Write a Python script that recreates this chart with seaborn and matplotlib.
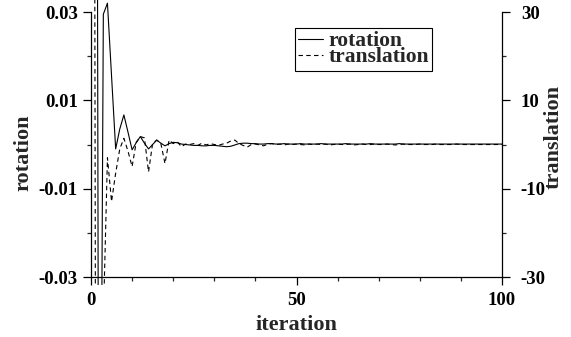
import numpy as np
import pandas as pd
import matplotlib
matplotlib.use("Agg")
import matplotlib.pyplot as plt
from matplotlib.ticker import FixedLocator, MultipleLocator
import seaborn as sns

# ---------------- data ----------------
iteration = list(range(0, 101))

rotation = [
    0.5, 0.3, -0.15, 0.0295, 0.032, 0.0155, -0.0010, 0.0035, 0.0067, 0.0028,
    -0.0012, 0.0004, 0.0018, 0.0003, -0.0010, 0.0000, 0.0010, 0.0003, -0.0003, 0.0002,
    0.0005, 0.0004, 0.0001, 0.0000, -0.0001, -0.0002, -0.0002, -0.0003, -0.0003, -0.0002,
    -0.0002, -0.0003, -0.0004, -0.0005, -0.0004, -0.0001, 0.0002, 0.0003, 0.0003, 0.0002,
    0.0002, 0.0001, 0.0001, 0.0002, 0.0002, 0.0001, 0.0001, 0.0002, 0.0001, 0.0001,
    0.0001, 0.0002, 0.0001, 0.0001, 0.0001, 0.0001, 0.0002, 0.0001, 0.0001, 0.0001,
    0.0001, 0.0001, 0.0002, 0.0001, 0.0001, 0.0001, 0.0001, 0.0001, 0.0002, 0.0001,
    0.0001, 0.0001, 0.0001, 0.0001, 0.0001, 0.0002, 0.0001, 0.0001, 0.0001, 0.0001,
    0.0001, 0.0001, 0.0001, 0.0001, 0.0001, 0.0001, 0.0001, 0.0001, 0.0001, 0.0001,
    0.0001, 0.0001, 0.0001, 0.0001, 0.0001, 0.0001, 0.0001, 0.0001, 0.0001, 0.0001,
    0.0001,
]

translation = [
    500.0, -3.0, -500.0, -40.0, -3.0, -12.9, -6.5, -1.0, 1.4, -1.5,
    -5.0, 0.5, 1.8, 1.5, -6.2, 0.3, 1.0, 0.2, -4.3, 1.0,
    0.2, 0.6, -0.5, 0.1, 0.0, 0.2, -0.2, 0.3, -0.1, 0.2,
    0.0, -0.2, 0.1, 0.3, 0.8, 1.0, 0.2, -0.2, -0.6, 0.0,
    0.1, -0.1, -0.3, 0.1, 0.2, 0.0, 0.1, -0.1, 0.1, 0.0,
    0.1, 0.0, -0.1, 0.1, 0.0, 0.1, 0.0, 0.1, -0.1, 0.0,
    0.1, 0.0, 0.0, 0.1, -0.1, 0.0, 0.1, 0.0, 0.0, 0.1,
    0.0, 0.0, 0.1, 0.0, -0.1, 0.0, 0.1, 0.0, 0.0, 0.0,
    0.1, 0.0, 0.0, 0.0, 0.1, 0.0, 0.0, 0.0, 0.0, 0.1,
    0.0, 0.0, 0.0, 0.0, 0.0, 0.0, 0.0, 0.0, 0.0, 0.0,
    0.0,
]

rot_ticks = [-0.03, -0.01, 0.01, 0.03]
rot_ticklabels = ["-0.03", "-0.01", "0.01", "0.03"]
rot_minor = [-0.02, 0.0, 0.02]
trans_ticks = [-30, -10, 10, 30]
trans_ticklabels = ["-30", "-10", "10", "30"]
trans_minor = [-20, 0, 20]
x_ticks = [0, 50, 100]
x_ticklabels = ["0", "50", "100"]

df = pd.DataFrame({"iteration": iteration, "rotation": rotation,
                   "translation": translation})

# ---------------- style ----------------
sns.set_style("ticks")
plt.rcParams["font.family"] = ["Liberation Serif", "DejaVu Serif"]
plt.rcParams["font.weight"] = "bold"
plt.rcParams["axes.unicode_minus"] = False

W, H = 571, 337
fig = plt.figure(figsize=(W / 100, H / 100), dpi=100)
fig.patch.set_facecolor("white")

# axes: left spine at x=91px, right at 502px; plotting area from y=0 to 285 px
ax = fig.add_axes([91 / W, (H - 285) / H, 411 / W, 285 / H])
ax.set_facecolor("none")
ax2 = ax.twinx()

sns.lineplot(data=df, x="iteration", y="rotation", ax=ax, color="black",
             linewidth=0.8, estimator=None, sort=False, legend=False)
sns.lineplot(data=df, x="iteration", y="translation", ax=ax2, color="black",
             linewidth=0.8, linestyle=(0, (4, 3)), estimator=None, sort=False,
             legend=False)

ax.set_xlim(0, 100)
ax.set_ylim(-0.03181, 0.03272)
ax2.set_ylim(-31.81, 32.72)

# spines
for a in (ax, ax2):
    a.spines["top"].set_visible(False)
ax.spines["right"].set_visible(False)
ax2.spines["left"].set_visible(False)
ax2.spines["bottom"].set_visible(False)
ax.spines["left"].set_bounds(-0.03, 0.03)
ax2.spines["right"].set_bounds(-30, 30)
ax.spines["bottom"].set_position(("data", -0.03))
for s in ("left", "bottom"):
    ax.spines[s].set_linewidth(0.9)
    ax.spines[s].set_color("black")
ax2.spines["right"].set_linewidth(0.9)
ax2.spines["right"].set_color("black")

# ticks
tick_fs = 13.5
ax.yaxis.set_major_locator(FixedLocator(rot_ticks))
ax.yaxis.set_minor_locator(FixedLocator(rot_minor))
ax.set_yticklabels(rot_ticklabels, fontsize=tick_fs, fontweight="bold")
ax2.yaxis.set_major_locator(FixedLocator(trans_ticks))
ax2.yaxis.set_minor_locator(FixedLocator(trans_minor))
ax2.set_yticklabels(trans_ticklabels, fontsize=tick_fs, fontweight="bold")
ax.xaxis.set_major_locator(FixedLocator(x_ticks))
ax.xaxis.set_minor_locator(MultipleLocator(10))
ax.set_xticklabels(x_ticklabels, fontsize=tick_fs, fontweight="bold")

ax.tick_params(axis="y", which="major", direction="out", length=6, width=0.9,
               pad=3.5, colors="black")
ax.tick_params(axis="y", which="minor", direction="out", length=3, width=0.9)
ax2.tick_params(axis="y", which="major", direction="out", length=6, width=0.9,
                pad=7.5, colors="black")
ax2.tick_params(axis="y", which="minor", direction="out", length=3, width=0.9)
ax.tick_params(axis="x", which="major", direction="out", length=6, width=0.9,
               pad=5, colors="black")
ax.tick_params(axis="x", which="minor", direction="out", length=3, width=0.9)

ax.set_xlabel("")
ax.set_ylabel("")
ax2.set_ylabel("")

lab_fs = 16
fig.text(23 / W, 1 - 153 / H, "rotation", rotation=90, ha="center", va="center",
         fontsize=lab_fs, fontweight="bold")
fig.text(554 / W, 1 - 137 / H, "translation", rotation=90, ha="center",
         va="center", fontsize=lab_fs, fontweight="bold")
fig.text(296 / W, 1 - 325 / H, "iteration", ha="center", va="center",
         fontsize=lab_fs, fontweight="bold")

# legend
h1 = ax.lines[0]
h2 = ax2.lines[0]
leg = ax2.legend([h1, h2], ["rotation", "translation"], loc="upper left",
                 bbox_to_anchor=(0.496, 0.902), borderaxespad=0, frameon=True,
                 fancybox=False, edgecolor="black", framealpha=1,
                 handlelength=1.15, handletextpad=0.25, borderpad=0.15,
                 labelspacing=-0.18,
                 prop={"family": "Liberation Serif", "weight": "bold",
                       "size": 15.5})
leg.get_frame().set_linewidth(0.8)

fig.savefig("out.png", dpi=100, facecolor="white")
